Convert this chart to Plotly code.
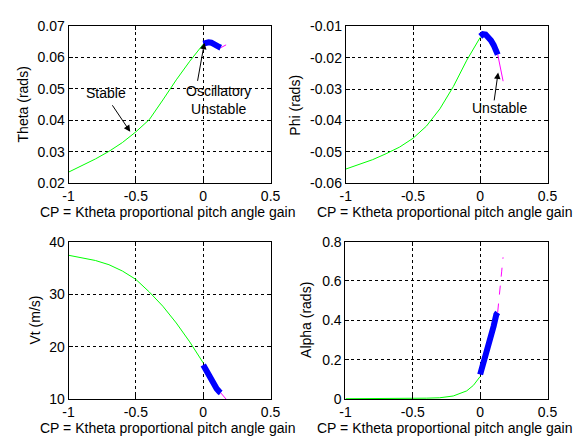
import plotly.graph_objects as go

# ---------------- data ----------------
x_stable = [-1.0, -0.9, -0.8, -0.7, -0.6, -0.5, -0.4, -0.3, -0.2, -0.1, -0.05, 0.0]
x_osc = [0.0, 0.02, 0.04, 0.06, 0.08, 0.10, 0.12, 0.13]
x_unst = [0.13, 0.14, 0.15, 0.16, 0.17]

theta_stable = [0.0235, 0.0255, 0.0277, 0.0301, 0.0329, 0.0363, 0.0402, 0.0464, 0.0528, 0.0587, 0.0615, 0.0641]
theta_osc = [0.0643, 0.0646, 0.0647, 0.0646, 0.0643, 0.0638, 0.0632, 0.0630]
theta_unst = [0.0630, 0.0632, 0.0635, 0.0637, 0.0639]

phi_stable = [-0.0555, -0.0541, -0.0525, -0.0506, -0.0485, -0.0457, -0.0418, -0.0363, -0.0292, -0.0208, -0.0172, -0.0135]
phi_osc = [-0.0132, -0.0125, -0.0126, -0.0134, -0.0145, -0.0160, -0.0178, -0.0190]
phi_unst = [-0.0190, -0.0212, -0.0236, -0.0260, -0.0275]

vt_stable = [37.4, 36.9, 36.4, 35.6, 34.4, 32.8, 30.4, 27.7, 24.5, 20.9, 19.0, 16.9]
vt_osc = [16.5, 15.5, 14.4, 13.4, 12.6, 12.0, 11.4, 11.2]
vt_unst = [11.2, 10.9, 10.6, 10.3, 10.0]

alpha_stable = [0.002, 0.002, 0.002, 0.003, 0.003, 0.004, 0.005, 0.007, 0.016, 0.042, 0.070, 0.115]
alpha_osc = [0.125, 0.17, 0.22, 0.27, 0.32, 0.37, 0.43, 0.44]
alpha_unst = [0.44, 0.50, 0.58, 0.65, 0.72]

x_ticks = [-1, -0.5, 0, 0.5]
x_ticktext = ["-1", "-0.5", "0", "0.5"]
theta_ticks = [0.02, 0.03, 0.04, 0.05, 0.06, 0.07]
theta_ticktext = ["0.02", "0.03", "0.04", "0.05", "0.06", "0.07"]
phi_ticks = [-0.06, -0.05, -0.04, -0.03, -0.02, -0.01]
phi_ticktext = ["-0.06", "-0.05", "-0.04", "-0.03", "-0.02", "-0.01"]
vt_ticks = [10, 20, 30, 40]
vt_ticktext = ["10", "20", "30", "40"]
alpha_ticks = [0, 0.2, 0.4, 0.6, 0.8]
alpha_ticktext = ["0", "0.2", "0.4", "0.6", "0.8"]

x_title = "CP = Ktheta proportional pitch angle gain"

# ---------------- figure ----------------
W, H = 586, 446
FONT = "Liberation Sans, Arial, sans-serif"
fig = go.Figure()

panels = [
    # (xaxis id, yaxis id, stable, osc, unst, yrange, ticks, ticktext, ytitle, xdom(px), ydom(px), ytitle_x)
    ("x", "y", theta_stable, theta_osc, theta_unst, [0.02, 0.07], theta_ticks, theta_ticktext, "Theta (rads)", (64.3, 272), (18.3, 181.7), 17.5),
    ("x2", "y2", phi_stable, phi_osc, phi_unst, [-0.06, -0.01], phi_ticks, phi_ticktext, "Phi (rads)", (349.3, 556.7), (19, 181.7), 297),
    ("x3", "y3", vt_stable, vt_osc, vt_unst, [10, 40], vt_ticks, vt_ticktext, "Vt (m/s)", (64.3, 272), (242.3, 405.7), 30),
    ("x4", "y4", alpha_stable, alpha_osc, alpha_unst, [0, 0.8], alpha_ticks, alpha_ticktext, "Alpha (rads)", (349, 556.7), (242.3, 405.7), 309),
]

annotations = []
for i, (xa, ya, ys, yo, yu, yr, yt, ytt, ytitle, xd, yd, ytx) in enumerate(panels):
    fig.add_trace(go.Scatter(x=x_stable, y=ys, xaxis=xa, yaxis=ya, mode="lines",
                             line=dict(color="#00ff00", width=1), showlegend=False))
    fig.add_trace(go.Scatter(x=x_osc, y=yo, xaxis=xa, yaxis=ya, mode="lines",
                             line=dict(color="#0000ff", width=6), showlegend=False))
    fig.add_trace(go.Scatter(x=x_unst, y=yu, xaxis=xa, yaxis=ya, mode="lines",
                             line=dict(color="#ff00ff", width=1, dash="dash" if i == 3 else "solid"),
                             showlegend=False))
    n = "" if i == 0 else str(i + 1)
    common = dict(showline=True, linecolor="black", linewidth=1, mirror="ticks",
                  ticks="inside", ticklen=4, tickcolor="black",
                  showgrid=True, gridcolor="black", gridwidth=1, griddash="3px,3px",
                  zeroline=False, tickfont=dict(family=FONT, size=14, color="black"))
    fig.layout["xaxis" + n] = dict(common, domain=[xd[0] / W, xd[1] / W], range=[-1, 0.5],
                                   tickvals=x_ticks, ticktext=x_ticktext,
                                   anchor="y" + n)
    fig.layout["yaxis" + n] = dict(common, domain=[1 - yd[1] / H, 1 - yd[0] / H], range=yr,
                                   tickvals=yt, ticktext=ytt, anchor="x" + n)
    # axis titles
    annotations.append(dict(text=ytitle, xref="paper", yref="paper", x=ytx / W,
                            y=1 - (yd[0] + yd[1]) / 2 / H, textangle=-90, showarrow=False,
                            xanchor="center", yanchor="middle",
                            font=dict(family=FONT, size=14, color="black")))
    annotations.append(dict(text=x_title, xref="paper", yref="paper",
                            x=((xd[0] + xd[1]) / 2 - 2) / W, y=1 - (yd[1] + 29.5) / H,
                            showarrow=False, xanchor="center", yanchor="middle",
                            font=dict(family=FONT, size=14, color="black")))

# in-plot labels and arrows
tf = dict(family=FONT, size=14, color="black")
annotations += [
    dict(text="Stable", x=-0.723, y=0.0486, xref="x", yref="y", showarrow=False, font=tf),
    dict(text="", x=-0.542, y=0.0363, ax=-0.682, ay=0.0452, xref="x", yref="y",
         axref="x", ayref="y", showarrow=True, arrowhead=2, arrowsize=1.3, arrowwidth=1,
         arrowcolor="black"),
    dict(text="Oscillatory<br>Unstable", x=0.11, y=0.0465, xref="x", yref="y",
         showarrow=False, font=tf),
    dict(text="", x=0.009, y=0.0646, ax=-0.044, ay=0.052, xref="x", yref="y",
         axref="x", ayref="y", showarrow=True, arrowhead=2, arrowsize=1.3, arrowwidth=1,
         arrowcolor="black"),
    dict(text="Unstable", x=0.143, y=-0.0361, xref="x2", yref="y2", showarrow=False, font=tf),
    dict(text="", x=0.133, y=-0.0247, ax=0.102, ay=-0.0341, xref="x2", yref="y2",
         axref="x2", ayref="y2", showarrow=True, arrowhead=2, arrowsize=1.3, arrowwidth=1,
         arrowcolor="black"),
]

fig.update_layout(width=W, height=H, margin=dict(l=0, r=0, t=0, b=0),
                  paper_bgcolor="white", plot_bgcolor="white",
                  annotations=annotations, font=dict(family=FONT, color="black"))

fig.write_html("out.html")
